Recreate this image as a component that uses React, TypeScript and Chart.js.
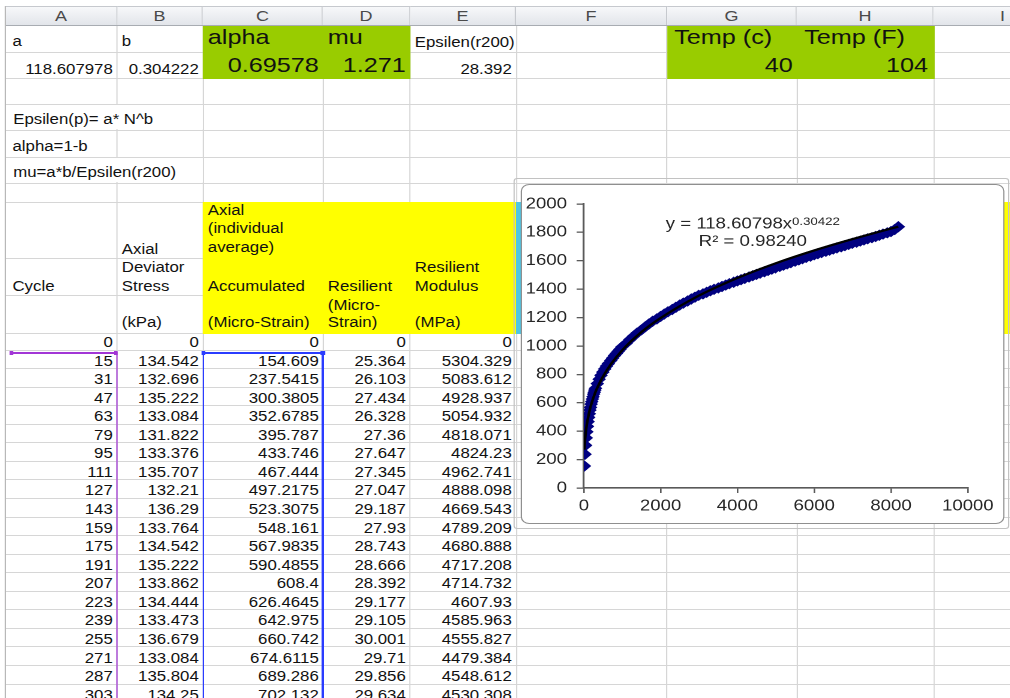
import React, { useEffect, useRef } from 'react';
import { Chart, registerables } from 'chart.js';

Chart.register(...registerables);

// ---------------- data ----------------
const columnLetters = ['A', 'B', 'C', 'D', 'E', 'F', 'G', 'H', 'I'];
const paramNames = ['a', 'b', 'alpha', 'mu', 'Epsilen(r200)'];
const paramValues = ['118.607978', '0.304222', '0.69578', '1.271', '28.392'];
const tempNames = ['Temp (c)', 'Temp (F)'];
const tempValues = ['40', '104'];
const formulaNotes = ['Epsilen(p)= a* N^b', 'alpha=1-b', 'mu=a*b/Epsilen(r200)'];

const cycles = [0, 15, 31, 47, 63, 79, 95, 111, 127, 143, 159, 175, 191, 207, 223, 239, 255, 271, 287, 303];
const deviatorStress = [0, 134.542, 132.696, 135.222, 133.084, 131.822, 133.376, 135.707, 132.21, 136.29, 133.764, 134.542, 135.222, 133.862, 134.444, 133.473, 136.679, 133.084, 135.804, 134.25];
const accumulatedStrain = [0, 154.609, 237.5415, 300.3805, 352.6785, 395.787, 433.746, 467.444, 497.2175, 523.3075, 548.161, 567.9835, 590.4855, 608.4, 626.4645, 642.975, 660.742, 674.6115, 689.286, 702.132];
const resilientStrain = [0, 25.364, 26.103, 27.434, 26.328, 27.36, 27.647, 27.345, 27.047, 29.187, 27.93, 28.743, 28.666, 28.392, 29.177, 29.105, 30.001, 29.71, 29.856, 29.634];
const resilientModulus = [0, 5304.329, 5083.612, 4928.937, 5054.932, 4818.071, 4824.23, 4962.741, 4888.098, 4669.543, 4789.209, 4680.888, 4717.208, 4714.732, 4607.93, 4585.963, 4555.827, 4479.384, 4548.612, 4530.308];

// later points of the series
const laterCycles = [351, 399, 447, 495, 543, 591, 639, 703, 751, 799, 847, 895, 943, 991,
  1103, 1199, 1295, 1391, 1503, 1599, 1695, 1791, 1903, 1999, 2095, 2191, 2303, 2399, 2495, 2591, 2703, 2799, 2895, 2991,
  3103, 3199, 3295, 3391, 3503, 3599, 3695, 3791, 3903, 3999, 4095, 4191, 4303, 4399, 4495, 4591, 4703, 4799, 4895, 4991,
  5103, 5199, 5295, 5391, 5503, 5599, 5695, 5791, 5903, 5999, 6095, 6191, 6303, 6399, 6495, 6591, 6703, 6799, 6895, 6991,
  7103, 7199, 7295, 7391, 7503, 7599, 7695, 7791, 7903, 7999, 8095, 8191];
const laterStrain = [735, 766, 793, 816, 838, 858, 876, 898, 915, 932, 947, 962, 977, 993,
  1019, 1045, 1069, 1092, 1114, 1135, 1155, 1174, 1191, 1208, 1225, 1241, 1257, 1273, 1288, 1302, 1317, 1331, 1344, 1357,
  1367, 1378, 1389, 1399, 1409, 1419, 1429, 1439, 1449, 1458, 1467, 1476, 1486, 1495, 1504, 1513, 1523, 1532, 1541, 1550,
  1560, 1569, 1578, 1587, 1597, 1606, 1615, 1624, 1633, 1642, 1650, 1658, 1667, 1675, 1683, 1691, 1699, 1707, 1715, 1723,
  1731, 1739, 1747, 1755, 1763, 1771, 1780, 1788, 1797, 1806, 1820, 1840];

// power trendline as drawn
const trendCycles = [15, 30, 50, 75, 100, 150, 200, 300, 400, 500, 700, 1000, 1500, 2000, 3000, 4000, 5000, 6000, 7000, 8000, 8191];
const trendStrain = [270, 334, 390, 441, 481, 545, 595, 674, 734, 785, 870, 970, 1098, 1197, 1355, 1479, 1583, 1673, 1753, 1827, 1840];

const trendEquation = 'y = 118.60798x';
const trendExponent = '0.30422';
const trendR2 = 'R² = 0.98240';
const trendLabelAt = { x: 4400, y1: 1829, y2: 1704 };

const xAxis = { min: 0, max: 10000, step: 2000 };
const yAxis = { min: 0, max: 2000, step: 200 };

// ---------------- layout ----------------
const S = 1.2; // horizontal stretch of the screenshot
const X = (v: number) => v / S;
const FONT = '"Liberation Sans", Arial, Helvetica, sans-serif';
const COL_EDGES = [6, 117, 203, 323, 410, 516, 667, 797, 934, 1072];
const ROW_EDGES: number[] = [25, 52, 78, 104, 130, 157, 183, 202, 258, 295, 333, 350];
for (let i = 1; i <= 20; i++) ROW_EDGES.push(350 + 18.56 * i);
const GRID = '#d6d6d6';
const CW = Math.round(X(1005) - X(521));
const CH = 340;

type CellDef = { c: number; r: number; c2?: number; r2?: number; t: string; al?: 'r'; fs?: number; lh?: number; pb?: number; pl?: number; pr?: number; bg?: string };

const cells: CellDef[] = [
  { c: 0, r: 1, t: paramNames[0], pb: 3, pl: 5.4 },
  { c: 1, r: 1, t: paramNames[1], pb: 3 },
  { c: 2, r: 1, t: paramNames[2], fs: 21, lh: 24, pb: 3.3 },
  { c: 3, r: 1, t: paramNames[3], fs: 21, lh: 24, pb: 3.3 },
  { c: 4, r: 1, t: paramNames[4], pb: 1.8 },
  { c: 6, r: 1, t: tempNames[0], fs: 21, lh: 24, pb: 3.3, pl: 6 },
  { c: 7, r: 1, t: tempNames[1], fs: 21, lh: 24, pb: 3.3, pl: 6 },
  { c: 0, r: 2, t: paramValues[0], al: 'r', pb: 1.5 },
  { c: 1, r: 2, t: paramValues[1], al: 'r', pb: 1.5 },
  { c: 2, r: 2, t: paramValues[2], al: 'r', fs: 21, lh: 24, pb: 0.6 },
  { c: 3, r: 2, t: paramValues[3], al: 'r', fs: 21, lh: 24, pb: 0.6 },
  { c: 4, r: 2, t: paramValues[4], al: 'r', pb: 1.5 },
  { c: 6, r: 2, t: tempValues[0], al: 'r', fs: 21, lh: 24, pb: 0.6 },
  { c: 7, r: 2, t: tempValues[1], al: 'r', fs: 21, lh: 24, pb: 0.6, pr: 5 },
  { c: 0, c2: 1, r: 4, t: formulaNotes[0], pb: 3, pl: 5.4, bg: '#ffffff' },
  { c: 0, r: 5, t: formulaNotes[1], pb: 3, pl: 5.4 },
  { c: 0, c2: 1, r: 6, t: formulaNotes[2], pb: 3, pl: 5.4, bg: '#ffffff' },
  { c: 1, r: 8, t: 'Axial', lh: 18.5, pb: 0 },
  { c: 2, r: 8, t: 'Axial\n(individual\naverage)', lh: 18.5, pb: 1.6 },
  { c: 0, r: 9, t: 'Cycle', lh: 18.5, pb: 0, pl: 5.4 },
  { c: 1, r: 9, t: 'Deviator\nStress', lh: 18.5, pb: 0 },
  { c: 2, r: 9, t: 'Accumulated', lh: 18.5, pb: 0 },
  { c: 3, r: 9, t: 'Resilient', lh: 18.5, pb: 0 },
  { c: 4, r: 9, t: 'Resilient\nModulus', lh: 18.5, pb: 0 },
  { c: 1, r: 10, t: '(kPa)', lh: 18.5, pb: 1.6 },
  { c: 2, r: 10, t: '(Micro-Strain)', lh: 18.5, pb: 1.6 },
  { c: 3, r: 10, t: '(Micro-\nStrain)', lh: 17, pb: 1.6 },
  { c: 4, r: 10, t: '(MPa)', lh: 18.5, pb: 1.6 },
];
cycles.forEach((cy, k) => {
  const r = 11 + k;
  const vals = [cy, deviatorStress[k], accumulatedStrain[k], resilientStrain[k], resilientModulus[k]];
  vals.forEach((v, c) => cells.push({ c, r, t: String(v), al: 'r', pb: 0 }));
});

function Cell({ d }: { d: CellDef }) {
  const l = X(COL_EDGES[d.c]);
  const r = X(COL_EDGES[(d.c2 ?? d.c) + 1]);
  const t = ROW_EDGES[d.r - 1] + (d.bg ? 0.6 : 0);
  const b = ROW_EDGES[d.r2 ?? d.r] - (d.bg ? 0.6 : 0);
  const right = d.al === 'r';
  return (
    <div
      style={{
        position: 'absolute', left: l + (d.bg ? 0.6 : 0), top: t, width: r - l - (d.bg ? 1.2 : 0), height: b - t,
        display: 'flex', flexDirection: 'column', justifyContent: 'flex-end',
        alignItems: right ? 'flex-end' : 'flex-start',
        paddingLeft: d.pl ?? 4, paddingRight: d.pr ?? 3.5, paddingBottom: (d.pb ?? 0) - (d.bg ? 0.6 : 0),
        boxSizing: 'border-box', fontSize: d.fs ?? 14, lineHeight: `${d.lh ?? 16}px`,
        whiteSpace: 'pre', overflow: 'visible', textAlign: right ? 'right' : 'left',
        background: d.bg ?? 'transparent',
      }}
    >
      {d.t}
    </div>
  );
}

function Fill({ c0, c1, r0, r1, color }: { c0: number; c1: number; r0: number; r1: number; color: string }) {
  const l = X(COL_EDGES[c0]);
  const r = X(COL_EDGES[c1 + 1]);
  const t = ROW_EDGES[r0 - 1];
  const b = ROW_EDGES[r1];
  return <div style={{ position: 'absolute', left: l, top: t, width: r - l + 0.5, height: b - t + 0.5, background: color }} />;
}

const trendLabelPlugin = {
  id: 'trendLabel',
  afterDatasetsDraw(chart: any) {
    const { ctx } = chart;
    const xs = chart.scales.x;
    const ys = chart.scales.y;
    const cx = xs.getPixelForValue(trendLabelAt.x);
    const y1 = ys.getPixelForValue(trendLabelAt.y1);
    const y2 = ys.getPixelForValue(trendLabelAt.y2);
    ctx.save();
    ctx.fillStyle = '#262626';
    ctx.textBaseline = 'alphabetic';
    const mainFont = `15.5px ${FONT}`;
    const supFont = `11px ${FONT}`;
    ctx.font = mainFont;
    const w1 = ctx.measureText(trendEquation).width;
    ctx.font = supFont;
    const w2 = ctx.measureText(trendExponent).width;
    const start = cx - (w1 + w2) / 2;
    ctx.font = mainFont;
    ctx.textAlign = 'left';
    ctx.fillText(trendEquation, start, y1);
    ctx.font = supFont;
    ctx.fillText(trendExponent, start + w1, y1 - 3.4);
    ctx.font = mainFont;
    ctx.textAlign = 'center';
    ctx.fillText(trendR2, cx, y2);
    ctx.restore();
  },
};

function ScatterChart() {
  const ref = useRef<HTMLCanvasElement>(null);
  useEffect(() => {
    const canvas = ref.current;
    if (!canvas) return;
    const points = [
      ...cycles.slice(1).map((c, i) => ({ x: c, y: accumulatedStrain[i + 1] })),
      ...laterCycles.map((c, i) => ({ x: c, y: laterStrain[i] })),
    ];
    const trend = trendCycles.map((c, i) => ({ x: c, y: trendStrain[i] }));
    const axisColor = '#5a5a5a';
    const tickFont = { family: FONT, size: 15.5 };
    const chart = new Chart(canvas, {
      type: 'scatter',
      data: {
        datasets: [
          {
            label: 'Power trend',
            data: trend,
            showLine: true,
            borderColor: '#000000',
            borderWidth: 2.2,
            pointRadius: 0,
            cubicInterpolationMode: 'monotone',
            fill: false,
            order: 0,
          } as any,
          {
            label: 'Accumulated',
            data: points,
            pointStyle: 'rectRot',
            pointRadius: 5,
            backgroundColor: '#000080',
            borderColor: '#000080',
            borderWidth: 1,
            order: 1,
          } as any,
        ],
      },
      options: {
        animation: false,
        responsive: false,
        devicePixelRatio: 2,
        events: [],
        layout: { padding: { top: 20, right: CW - 372.5, left: 0, bottom: 0 } },
        plugins: { legend: { display: false }, tooltip: { enabled: false } },
        scales: {
          x: {
            type: 'linear',
            min: xAxis.min,
            max: xAxis.max,
            ticks: { stepSize: xAxis.step, font: tickFont, color: '#262626', padding: 4, maxRotation: 0, callback: (v: any) => String(v) },
            grid: { drawOnChartArea: false, drawTicks: true, tickLength: 5, color: axisColor, lineWidth: 1.3 },
            border: { display: true, color: axisColor, width: 1.6 },
            afterFit: (s: any) => { s.height = 36; },
          },
          y: {
            type: 'linear',
            min: yAxis.min,
            max: yAxis.max,
            ticks: { stepSize: yAxis.step, font: tickFont, color: '#262626', padding: 8, callback: (v: any) => String(v) },
            grid: { drawOnChartArea: false, drawTicks: true, tickLength: 6, color: axisColor, lineWidth: 1.3 },
            border: { display: true, color: axisColor, width: 1.6 },
            afterFit: (s: any) => { s.width = 52.5; },
          },
        },
      },
      plugins: [trendLabelPlugin],
    } as any);
    return () => chart.destroy();
  }, []);
  return (
    <canvas
      ref={ref}
      width={CW}
      height={CH}
      style={{ position: 'absolute', left: X(521), top: 184, width: CW, height: CH }}
    />
  );
}

export default function App() {
  const fullW = 1010 / S;
  return (
    <div
      style={{
        position: 'fixed', left: 0, top: 0, width: fullW, height: 698,
        transform: `scaleX(${S})`, transformOrigin: '0 0',
        background: '#ffffff', overflow: 'hidden', fontFamily: FONT, color: '#111111',
      }}
    >
      {/* gridlines */}
      {ROW_EDGES.map((y, i) => (
        <div key={`h${i}`} style={{ position: 'absolute', left: X(6), top: y - 0.5, width: fullW, height: 1, background: GRID }} />
      ))}
      {COL_EDGES.slice(1, 9).map((x, i) => (
        <div key={`v${i}`} style={{ position: 'absolute', left: X(x) - 0.4, top: 25, width: 0.85, height: 700, background: GRID }} />
      ))}
      <div style={{ position: 'absolute', left: X(5), top: 6, width: 1, height: 700, background: '#b8b8b8' }} />

      {/* fills */}
      <Fill c0={2} c1={3} r0={1} r1={2} color="#99cc00" />
      <Fill c0={6} c1={7} r0={1} r1={2} color="#99cc00" />
      <Fill c0={2} c1={4} r0={8} r1={10} color="#ffff00" />
      <Fill c0={5} c1={5} r0={8} r1={10} color="#4fc6e4" />
      <Fill c0={8} c1={8} r0={8} r1={10} color="#ffff00" />

      {/* column headers */}
      {columnLetters.map((L, c) => {
        const l = X(COL_EDGES[c]);
        const r = X(COL_EDGES[c + 1]);
        return (
          <div
            key={L}
            style={{
              position: 'absolute', left: l, top: 6, width: r - l, height: 19,
              background: 'linear-gradient(#f7f8fa, #e2e5ea)', borderRight: '1px solid #c6c9ce',
              borderTop: '1px solid #c6c9ce', boxSizing: 'border-box', textAlign: 'center',
              fontSize: 15, lineHeight: '18px', color: '#4a4a4a',
            }}
          >
            {L}
          </div>
        );
      })}
      <div style={{ position: 'absolute', left: X(6), top: 24.5, width: fullW, height: 1, background: '#a8acb2' }} />

      {/* cell texts */}
      {cells.map((d, i) => <Cell key={i} d={d} />)}

      {/* formula range highlights */}
      <div style={{ position: 'absolute', left: X(11), top: 352, width: X(117) - X(11), height: 1.5, background: '#a236d6' }} />
      <div style={{ position: 'absolute', left: X(116), top: 352, width: 1.3, height: 360, background: '#a236d6' }} />
      <div style={{ position: 'absolute', left: X(9), top: 350.5, width: 3.5, height: 4.5, background: '#a236d6' }} />
      <div style={{ position: 'absolute', left: X(113.5), top: 350.5, width: 3.5, height: 4.5, background: '#a236d6' }} />
      <div style={{ position: 'absolute', left: X(203), top: 352, width: X(323) - X(203), height: 1.5, background: '#2a3cff' }} />
      <div style={{ position: 'absolute', left: X(203), top: 352, width: 1.3, height: 360, background: '#2a3cff' }} />
      <div style={{ position: 'absolute', left: X(322), top: 352, width: 1.3, height: 360, background: '#2a3cff' }} />
      <div style={{ position: 'absolute', left: X(201.5), top: 350.5, width: 3.5, height: 4.5, background: '#2a3cff' }} />
      <div style={{ position: 'absolute', left: X(320.5), top: 350.5, width: 3.5, height: 4.5, background: '#2a3cff' }} />

      {/* chart object frame */}
      <div
        style={{
          position: 'absolute', left: X(514), top: 178, width: X(1009) - X(514), height: 351,
          border: '1px solid #c2c2c2', borderRadius: 3, boxSizing: 'border-box',
        }}
      />
      <div
        style={{
          position: 'absolute', left: X(521), top: 184, width: CW, height: CH,
          background: '#ffffff', border: '1px solid #8f8f8f', borderRadius: 7, boxSizing: 'border-box',
        }}
      />
      <ScatterChart />
    </div>
  );
}
